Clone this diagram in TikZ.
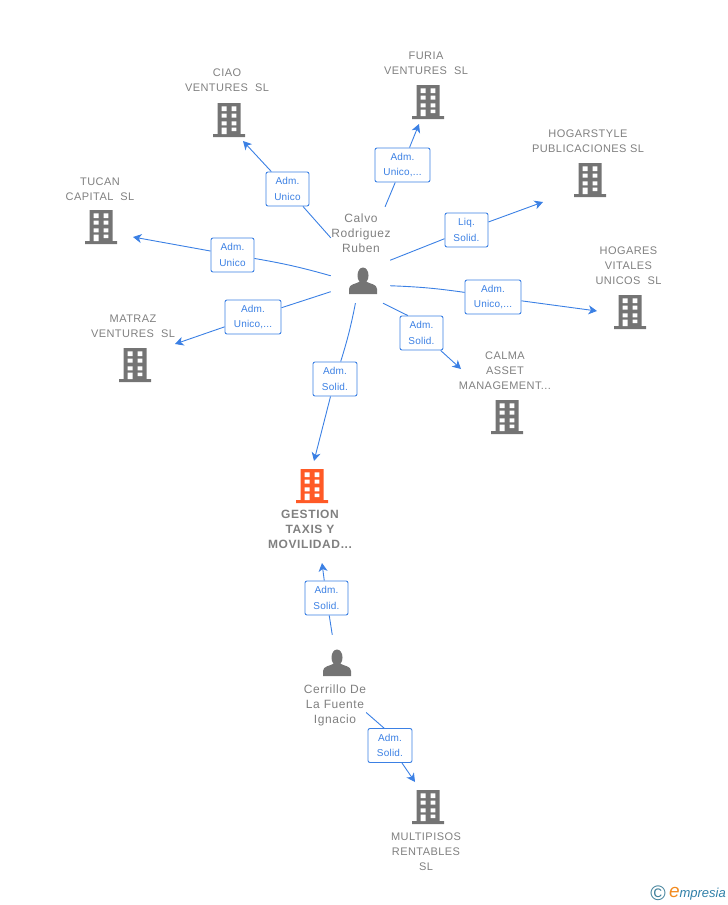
\documentclass[tikz,border=0pt]{standalone}
\usepackage{fontspec}
\setmainfont{Liberation Sans}
\usetikzlibrary{arrows.meta}
\definecolor{linkblue}{HTML}{3B80E4}
\definecolor{textgrey}{HTML}{808080}
\definecolor{iconfill}{HTML}{747474}
\definecolor{hotfill}{HTML}{FF5A26}
\tikzset{
  caption/.style={text=textgrey, align=center, yshift=-0.2pt, font=\fontsize{11}{15}\selectfont\addfontfeature{LetterSpace=4}, inner sep=0},
  owner/.style={caption, font=\fontsize{12}{15}\selectfont\addfontfeature{LetterSpace=5}},
  hotcaption/.style={caption, font=\fontsize{12}{15}\selectfont\bfseries\addfontfeature{LetterSpace=5}},
  role/.style={draw=linkblue, fill=white, rounded corners=2, line width=0.9, text=linkblue, align=center, font=\fontsize{10}{15.5}\selectfont\addfontfeature{LetterSpace=2}, inner sep=0, minimum height=34},
  link/.style={draw=linkblue, line width=0.9},
  arrowlink/.style={link, -{Stealth[length=8.5, width=9, inset=2.5]}},
  hub/.style={inner sep=0},
  building/.pic={
    \fill[pic actions] (-11.5,-17) rectangle (11.5,14) (-16,14) rectangle (16,17);
    \fill[white] (-7.3,-13.7) rectangle (-2.3,-9) (2.7,-13.7) rectangle (7.3,-9)
      (-7.3,-6.3) rectangle (-2.3,-2.3) (2.7,-6.3) rectangle (7.3,-2.3)
      (-7.3,1.3) rectangle (-2.3,5.3) (2.7,1.3) rectangle (7.3,5.3)
      (-7.3,7.7) rectangle (-2.3,14) (2.7,7.7) rectangle (7.3,11);
  },
  person/.pic={
    \fill[iconfill] (0,-5.5) ellipse (5.5 and 8);
    \fill[iconfill] (-14,13) -- (-14,8) .. controls (-14,3) and (-7,3) .. (-3,0.5)
      -- (3,0.5) .. controls (7,3) and (14,3) .. (14,8) -- (14,13) -- cycle;
  }
}
\begin{document}
\begin{tikzpicture}[x=1pt, y=-1pt]
\useasboundingbox (0,0) rectangle (728,905);

\node[caption] (ciaoname) at (227,80.5) {CIAO\\VENTURES\ \ SL};
\node[caption] (furianame) at (426,63.5) {FURIA\\VENTURES\ \ SL};
\node[caption] (hogarstylename) at (588,141.5) {HOGARSTYLE\\PUBLICACIONES SL};
\node[caption] (hogaresname) at (628.5,266) {HOGARES\\VITALES\\UNICOS\ \ SL};
\node[caption] (calmaname) at (505,371) {CALMA\\ASSET\\MANAGEMENT...};
\node[caption] (matrazname) at (133,326.5) {MATRAZ\\VENTURES\ \ SL};
\node[caption] (tucanname) at (100,189) {TUCAN\\CAPITAL\ \ SL};
\node[hotcaption] (gestionname) at (310,529.5) {GESTION\\TAXIS Y\\MOVILIDAD...};
\node[caption] (multipisosname) at (426,852) {MULTIPISOS\\RENTABLES\\SL};
\node[owner] (calvoname) at (361,233) {Calvo\\Rodriguez\\Ruben};
\node[owner] (cerrilloname) at (335,705) {Cerrillo De\\La Fuente\\Ignacio};

\pic[fill=iconfill] (ciao) at (229,120) {building};
\pic[fill=iconfill] (furia) at (428,102) {building};
\pic[fill=iconfill] (hogarstyle) at (590,180) {building};
\pic[fill=iconfill] (hogares) at (630,312) {building};
\pic[fill=iconfill] (calma) at (507,417) {building};
\pic[fill=iconfill] (matraz) at (135,365) {building};
\pic[fill=iconfill] (tucan) at (101,227) {building};
\pic[fill=hotfill] (gestion) at (312,486) {building};
\pic[fill=iconfill] (multipisos) at (428,807) {building};
\pic (calvoicon) at (363,281) {person};
\pic (cerrilloicon) at (337,663) {person};

% invisible boxes round each person, the links start on their borders
\node[hub, minimum width=59, minimum height=96] (calvo) at (360.5,255) {};
\node[hub, minimum width=62, minimum height=78] (cerrillo) at (335,674) {};

\coordinate (ciaotip) at (243,141);
\coordinate (furiatip) at (419,124);
\coordinate (hogarstyletip) at (543,202);
\coordinate (hogarestip) at (597,311);
\coordinate (calmatip) at (461,369);
\coordinate (matraztip) at (175,344);
\coordinate (tucantip) at (133,237);
\coordinate (gestiontip) at (314,461);
\coordinate (gestiontwotip) at (322,563);
\coordinate (multipisostip) at (415,782);

\node[role, minimum width=43] (ciaorole) at (287.5,189) {Adm.\\Unico};
\node[role, minimum width=55] (furiarole) at (402.5,165) {Adm.\\Unico,...};
\node[role, minimum width=43] (hogarstylerole) at (466.5,230) {Liq.\\Solid.};
\node[role, minimum width=56] (hogaresrole) at (493,297) {Adm.\\Unico,...};
\node[role, minimum width=43] (calmarole) at (421.5,333) {Adm.\\Solid.};
\node[role, minimum width=44] (gestionrole) at (335,379) {Adm.\\Solid.};
\node[role, minimum width=56] (matrazrole) at (253,317) {Adm.\\Unico,...};
\node[role, minimum width=43] (tucanrole) at (232.5,255) {Adm.\\Unico};
\node[role, minimum width=43] (gestiontworole) at (326.5,598) {Adm.\\Solid.};
\node[role, minimum width=44] (multipisosrole) at (390,745.5) {Adm.\\Solid.};

\draw[link] (calvo.150) to (ciaorole);
\draw[arrowlink] (ciaorole) to (ciaotip);
\draw[link] (calvo.63) to (furiarole);
\draw[arrowlink] (furiarole) to (furiatip);
\draw[link] (calvo.-10) to (hogarstylerole);
\draw[arrowlink] (hogarstylerole) to (hogarstyletip);
\draw[link] (calvo.-46) to[bend left=3] (hogaresrole);
\draw[arrowlink] (hogaresrole) to (hogarestip);
\draw[link] (calvo.-65) to (calmarole.128);
\draw[arrowlink] (calmarole) to (calmatip);
\draw[link] (calvo.-96) to[bend left=3] (gestionrole);
\draw[arrowlink] (gestionrole) to (gestiontip);
\draw[link] (calvo.231) to (matrazrole);
\draw[arrowlink] (matrazrole) to (matraztip);
\draw[link] (calvo.215) to[bend right=3] (tucanrole);
\draw[arrowlink] (tucanrole) to (tucantip);
\draw[link] (cerrillo.94) to (gestiontworole);
\draw[arrowlink] (gestiontworole) to (gestiontwotip);
\draw[link] (cerrillo.-51) to (multipisosrole.109);
\draw[arrowlink] (multipisosrole) to (multipisostip);

\node[inner sep=0] (copyright) at (658,893) {\textcolor[HTML]{3F7F99}{\fontsize{21}{21}\selectfont ©}};
\node[inner sep=0, anchor=east] (logo) at (726,894) {\textcolor[HTML]{F28A1E}{\fontsize{19}{19}\selectfont\itshape e}\textcolor[HTML]{2F7FA8}{\fontsize{13}{13}\selectfont\itshape mpresia}};
\end{tikzpicture}
\end{document}
